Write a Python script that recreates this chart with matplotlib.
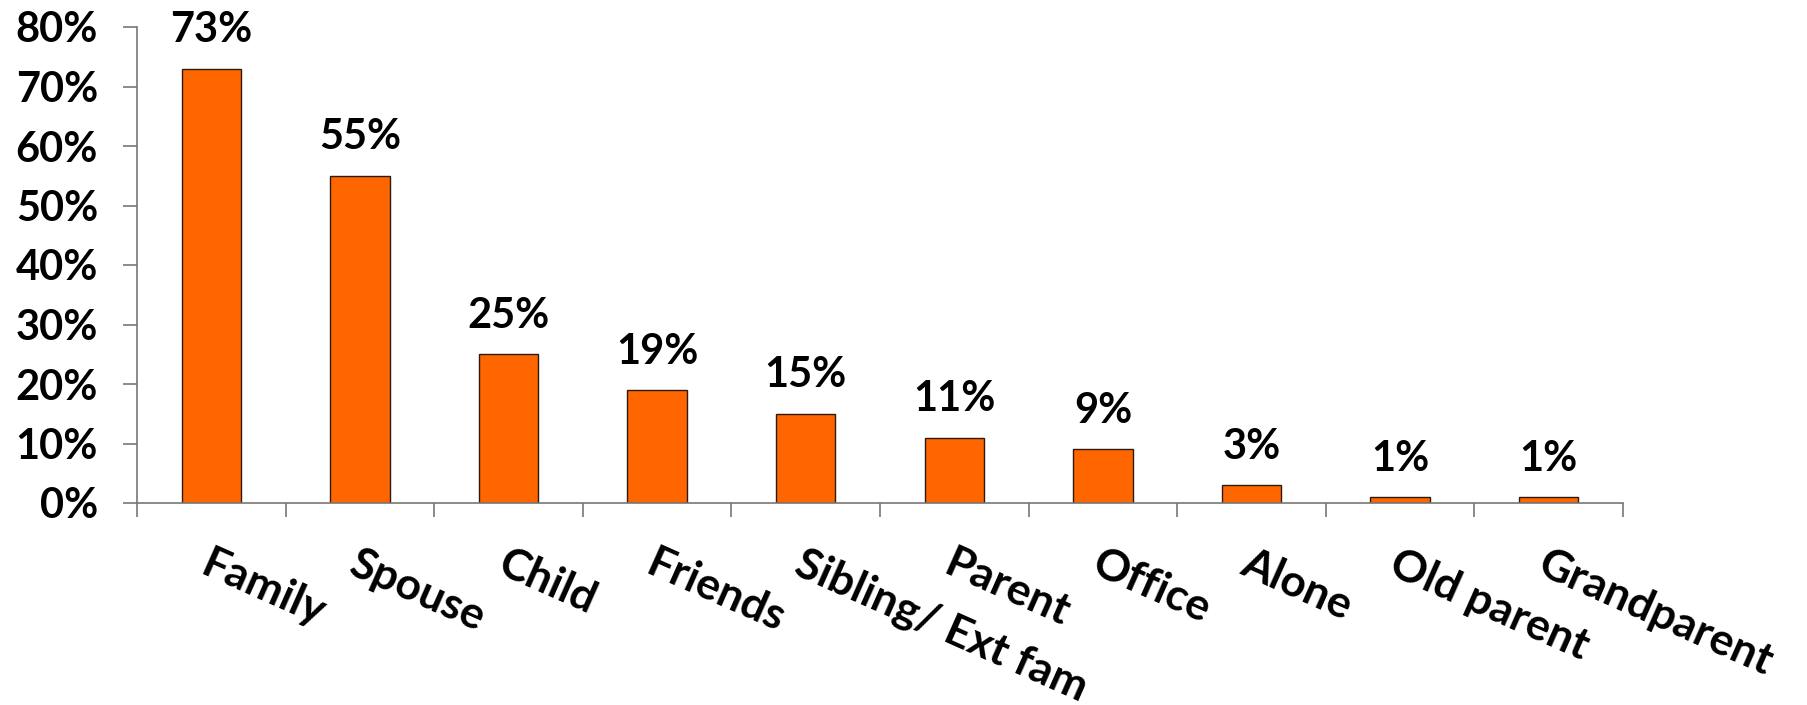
import matplotlib
matplotlib.use("Agg")
import matplotlib.pyplot as plt
from matplotlib.ticker import FixedLocator, PercentFormatter

categories = ["Family", "Spouse", "Child", "Friends", "Sibling/ Ext fam",
              "Parent", "Office", "Alone", "Old parent", "Grandparent"]
shares = [73, 55, 25, 19, 15, 11, 9, 3, 1, 1]
y_ticks = [0, 10, 20, 30, 40, 50, 60, 70, 80]

plt.rcParams["font.family"] = ["Lato", "DejaVu Sans"]
plt.rcParams["font.weight"] = "bold"

fig = plt.figure(figsize=(18.08, 7.05), dpi=100)
ax = fig.add_axes([137 / 1808, 1 - 503 / 705, (1623 - 137) / 1808, (503 - 27) / 705])

x = list(range(len(categories)))
bars = ax.bar(x, shares, width=0.4, color="#FF6600", edgecolor="#2a1a10", linewidth=1.0)

for xi, v in zip(x, shares):
    ax.annotate(f"{v}%", (xi, v), xytext=(0, 14), textcoords="offset points",
                ha="center", va="bottom", fontsize=30, fontweight="bold", color="black")

ax.set_xlim(-0.5, len(categories) - 0.5)
ax.set_ylim(0, 80)
ax.set_yticks(y_ticks)
ax.yaxis.set_major_formatter(PercentFormatter(decimals=0))
ax.tick_params(axis="y", length=10, width=1.2, color="#777777", pad=18,
               labelsize=30, direction="out")
for lbl in ax.get_yticklabels():
    lbl.set_fontweight("bold")

ax.set_xticks(x)
ax.set_xticklabels(categories, rotation=-24, ha="left", rotation_mode="anchor",
                   fontsize=32, fontweight="bold")
ax.tick_params(axis="x", which="major", length=0, pad=29)
ax.xaxis.set_minor_locator(FixedLocator([i - 0.5 for i in range(len(categories) + 1)]))
ax.tick_params(axis="x", which="minor", length=10, width=1.2, color="#777777", direction="out")

for side in ("top", "right"):
    ax.spines[side].set_visible(False)
for side in ("left", "bottom"):
    ax.spines[side].set_color("#777777")
    ax.spines[side].set_linewidth(1.2)

fig.savefig("out.png", dpi=100)
